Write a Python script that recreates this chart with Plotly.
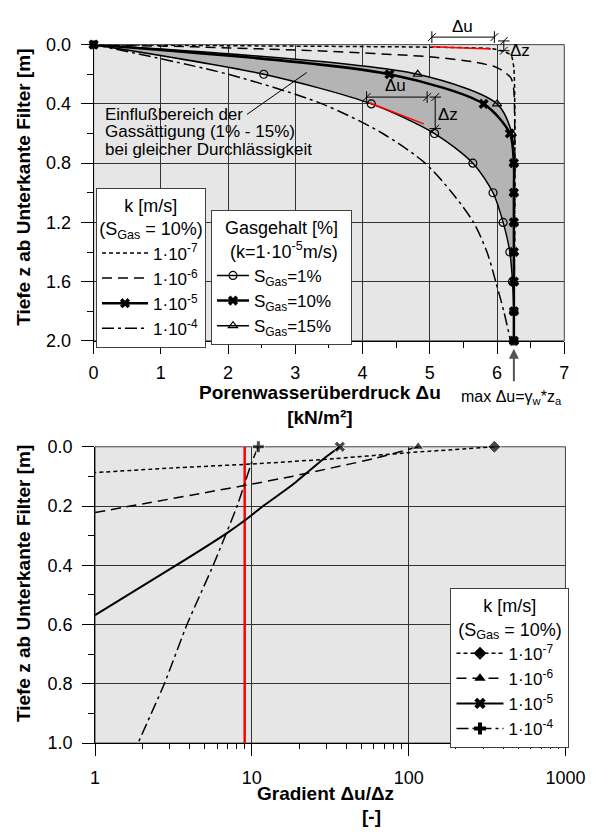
import plotly.graph_objects as go

# ---------------- top chart: pore water overpressure vs depth ----------------
z_marked = [0.0, 0.2, 0.4, 0.6, 0.8, 1.0, 1.2, 1.4, 1.6, 1.8, 2.0]
du_sgas1 = [0.0, 2.53, 4.13, 5.07, 5.64, 5.94, 6.09, 6.19, 6.23, 6.25, 6.25]
du_sgas10 = [0.0, 4.40, 5.80, 6.19, 6.25, 6.25, 6.25, 6.25, 6.25, 6.25, 6.25]
du_sgas15 = [0.0, 4.82, 6.00, 6.22, 6.25, 6.25, 6.25, 6.25, 6.25, 6.25, 6.25]

z_k7 = [0.0, 0.007, 0.017, 0.027, 0.046, 0.073, 0.16, 2.0]
du_k7 = [0.0, 2.0, 5.0, 5.92, 6.10, 6.21, 6.25, 6.25]

z_k6 = [0.0, 0.015, 0.043, 0.082, 0.115, 0.148, 0.181, 0.227, 0.313, 2.0]
du_k6 = [0.0, 1.5, 3.39, 5.0, 5.63, 5.96, 6.10, 6.21, 6.25, 6.25]

z_k4 = [0.0, 0.2, 0.4, 0.6, 0.8, 1.0, 1.2, 1.4, 1.6, 1.8, 2.0]
du_k4 = [0.0, 2.0, 3.4, 4.3, 4.93, 5.33, 5.65, 5.85, 5.98, 6.10, 6.20]

du_max = 6.25

# ---------------- bottom chart: gradient vs depth ----------------
gz_k7 = [0.0, 0.02, 0.042, 0.058, 0.072, 0.087]
grad_k7 = [352, 100, 30, 10, 3, 1]
gz_k6 = [0.0, 0.04, 0.075, 0.10, 0.126, 0.155, 0.193, 0.222]
grad_k6 = [115, 60, 30, 18, 10, 5, 2, 1]
gz_k5 = [0.0, 0.041, 0.13, 0.20, 0.249, 0.292, 0.398, 0.568]
grad_k5 = [36.4, 28.6, 18.0, 11.8, 9.0, 6.9, 3.34, 1.0]
gz_k4 = [0.0, 0.051, 0.196, 0.397, 0.601, 0.799, 1.0]
grad_k4 = [11.0, 10.0, 8.1, 5.7, 3.85, 2.77, 1.88]
grad_crit = 9.0
gz_crit = [0.0, 1.0]

NB = "\u00a0"
k_labels = ["1·10<sup>-7</sup>", "1·10<sup>-6</sup>", "1·10<sup>-5</sup>", "1·10<sup>-4</sup>"]
sgas_labels = ["S<sub>Gas</sub>=1%", "S<sub>Gas</sub>=10%", "S<sub>Gas</sub>=15%" + NB * 3]
k_title = NB * 5 + "k [m/s]<br>(S<sub>Gas</sub> = 10%)"
gas_title = "Gasgehalt [%]<br>" + NB + "(k=1·10<sup>-5</sup>m/s)"

# ---------------- layout helpers ----------------
W, H = 596, 836
FONT = "Liberation Sans, Arial, Helvetica, sans-serif"
def px_x(p): return p / W
def px_y(p): return 1 - p / H
def xd(x): return x / 7.0          # top x-axis domain fraction
def yd(z): return 1 - z / 2.0      # top y-axis domain fraction (reversed)
UX, UZ = 1 / 70.1, 1 / 151.9       # one pixel in top-chart data units

DASH_K7 = "4px,3px"
DASH_K6 = "10px,6px"
DASH_K4 = "12px,4px,3px,4px"
GRID = "#333333"

fig = go.Figure()

# --- top chart traces ---
fig.add_trace(go.Scatter(x=du_sgas1, y=z_marked, mode="lines+markers",
    line=dict(color="black", width=1.5, shape="spline", smoothing=0.8),
    marker=dict(symbol="circle-open", size=8, color="black", line=dict(width=1.2, color="black")),
    showlegend=False, cliponaxis=False))
fig.add_trace(go.Scatter(x=du_sgas15, y=z_marked, mode="lines+markers",
    line=dict(color="black", width=1.5, shape="spline", smoothing=0.8),
    fill="tonextx", fillcolor="#b4b4b4",
    marker=dict(symbol="triangle-up-open", size=8, color="black", line=dict(width=1.2, color="black")),
    showlegend=False, cliponaxis=False))
fig.add_trace(go.Scatter(x=du_k7, y=z_k7, mode="lines+markers",
    line=dict(color="black", width=1.5, dash=DASH_K7, shape="spline", smoothing=0.6),
    marker=dict(symbol="square", size=[9] + [0] * (len(z_k7) - 1), color="black"),
    showlegend=False, cliponaxis=False))
fig.add_trace(go.Scatter(x=du_k6, y=z_k6, mode="lines",
    line=dict(color="black", width=1.5, dash=DASH_K6, shape="spline", smoothing=0.6),
    showlegend=False))
fig.add_trace(go.Scatter(x=du_k4, y=z_k4, mode="lines",
    line=dict(color="black", width=1.5, dash=DASH_K4, shape="spline", smoothing=0.8),
    showlegend=False))
fig.add_trace(go.Scatter(x=du_sgas10, y=z_marked, mode="lines+markers",
    line=dict(color="black", width=2.5, shape="spline", smoothing=0.8),
    marker=dict(symbol="x", size=9, color="black"),
    showlegend=False, cliponaxis=False))

# legend 1 proxies (k, top)
styles_top = [
    dict(line=dict(color="black", width=1.5, dash=DASH_K7), mode="lines"),
    dict(line=dict(color="black", width=1.5, dash=DASH_K6), mode="lines"),
    dict(line=dict(color="black", width=2.5), mode="lines+markers", marker=dict(symbol="x", size=9, color="black")),
    dict(line=dict(color="black", width=1.5, dash=DASH_K4), mode="lines"),
]
for i, (lab, st) in enumerate(zip(k_labels, styles_top)):
    fig.add_trace(go.Scatter(x=[None], y=[None], name=lab, legend="legend",
                             legendgroup="a%d" % i, **st))
# legend 2 proxies (gas content)
styles_gas = [
    dict(line=dict(color="black", width=1.5), marker=dict(symbol="circle-open", size=8, color="black", line=dict(width=1.2))),
    dict(line=dict(color="black", width=2.5), marker=dict(symbol="x", size=9, color="black")),
    dict(line=dict(color="black", width=1.5), marker=dict(symbol="triangle-up-open", size=8, color="black", line=dict(width=1.2))),
]
for i, (lab, st) in enumerate(zip(sgas_labels, styles_gas)):
    fig.add_trace(go.Scatter(x=[None], y=[None], name=lab, legend="legend2",
                             legendgroup="b%d" % i, mode="lines+markers", **st))

# --- bottom chart traces ---
fig.add_trace(go.Scatter(x=[grad_crit, grad_crit], y=gz_crit, xaxis="x2", yaxis="y2", mode="lines",
    line=dict(color="#ff0000", width=2.5), showlegend=False))
bottom_series = [
    (grad_k7, gz_k7, DASH_K7, "diamond", 1.5),
    (grad_k6, gz_k6, DASH_K6, "triangle-up", 1.5),
    (grad_k5, gz_k5, "solid", "x", 2.0),
    (grad_k4, gz_k4, DASH_K4, "cross", 1.5),
]
for gx, gz, dsh, sym, lw in bottom_series:
    fig.add_trace(go.Scatter(x=gx, y=gz, xaxis="x2", yaxis="y2", mode="lines+markers",
        line=dict(color="black", width=lw, dash=dsh, shape="spline", smoothing=0.5),
        marker=dict(symbol=sym, size=[10] + [0] * (len(gx) - 1), color="black"),
        showlegend=False, cliponaxis=False))
k_labels3 = k_labels[:3] + [k_labels[3] + NB * 2]
for i, (lab, (gx, gz, dsh, sym, lw)) in enumerate(zip(k_labels3, bottom_series)):
    fig.add_trace(go.Scatter(x=[None], y=[None], xaxis="x2", yaxis="y2", name=lab,
        legend="legend3", legendgroup="c%d" % i, mode="lines+markers",
        line=dict(color="black", width=lw, dash=dsh),
        marker=dict(symbol=sym, size=10, color="black")))

# ---------------- axes ----------------
tickfont = dict(family=FONT, size=18, color="black")
common = dict(showline=True, linecolor="black", linewidth=1, ticks="outside", ticklen=12,
              tickwidth=1, tickcolor="black", showgrid=True, gridcolor=GRID, gridwidth=1,
              zeroline=False, tickfont=tickfont)

top_dx = [px_x(92.5), px_x(583.8)]
top_dy = [px_y(339), px_y(35.5)]
bot_dx = [px_x(94), px_x(585)]
bot_dy = [px_y(751), px_y(447.5)]

fig.update_layout(
    xaxis=dict(domain=top_dx, anchor="y", range=[0, 7], tick0=0, dtick=1,
               minor=dict(ticks="outside", ticklen=6, dtick=0.5, tickcolor="black", showgrid=False),
               ticklabelstandoff=4, **common),
    yaxis=dict(domain=top_dy, anchor="x", range=[2.0, 0.0], tick0=0, dtick=0.4, tickformat=".1f",
               minor=dict(ticks="outside", ticklen=6, dtick=0.2, tickcolor="black", showgrid=False),
               ticklabelstandoff=6, **common),
    xaxis2=dict(domain=bot_dx, anchor="y2", type="log", range=[0, 3],
                tickvals=[1, 10, 100, 1000], ticktext=["1", "10", "100", "1000"],
                ticklabeloverflow="allow",
                minor=dict(ticks="outside", ticklen=5, tickcolor="black", showgrid=False,
                           tickvals=[m * 10 ** e for e in range(3) for m in range(2, 10)]),
                ticklabelstandoff=6, **common),
    yaxis2=dict(domain=bot_dy, anchor="x2", range=[1.0, 0.0], tick0=0, dtick=0.2, tickformat=".1f",
                minor=dict(ticks="outside", ticklen=6, dtick=0.1, tickcolor="black", showgrid=False),
                ticklabelstandoff=6, **common),
)

title_font = dict(family=FONT, size=18, color="black")
leg_common = dict(xanchor="left", yanchor="top", bgcolor="white", bordercolor="#404040",
                  borderwidth=1, font=dict(family=FONT, size=17, color="black"),
                  traceorder="grouped", tracegroupgap=0)
fig.update_layout(
    legend=dict(x=px_x(95), y=px_y(182), itemwidth=46,
                title=dict(text=k_title, side="top center", font=title_font), **leg_common),
    legend2=dict(x=px_x(215), y=px_y(205), itemwidth=32,
                 title=dict(text=gas_title, side="top center", font=title_font), **leg_common),
    legend3=dict(x=px_x(465), y=px_y(592), itemwidth=47,
                 title=dict(text=k_title, side="top center", font=title_font), **leg_common),
)

# ---------------- shapes (frames, dimension annotations) ----------------
shapes = []
for xr, yr in (("x domain", "y domain"), ("x2 domain", "y2 domain")):
    shapes.append(dict(type="rect", xref=xr, yref=yr, x0=0, x1=1, y0=0, y1=1,
                       line=dict(color="#404040", width=1), layer="below"))

def seg(x0, z0, x1, z1, color="black", width=1):
    shapes.append(dict(type="line", xref="x domain", yref="y domain",
                       x0=xd(x0), y0=yd(z0), x1=xd(x1), y1=yd(z1),
                       line=dict(color=color, width=width)))

def hdim(xa, xb, z):
    seg(xa, z, xb, z)
    for x in (xa, xb):
        seg(x, z - 6 * UZ, x, z + 6 * UZ)
        seg(x - 4 * UX, z + 4 * UZ, x + 4 * UX, z - 4 * UZ)

def vdim(x, za, zb):
    seg(x, za, x, zb)
    for z in (za, zb):
        seg(x - 6 * UX, z, x + 6 * UX, z)
        seg(x - 4 * UX, z + 4 * UZ, x + 4 * UX, z - 4 * UZ)

# upper construction (k = 1e-7 curve)
hdim(5.03, 5.96, -0.051)
vdim(6.10, -0.025, 0.041)
seg(5.03, 0.015, 5.91, 0.030, color="#ff0000", width=1.5)
# lower construction (S_Gas = 1% curve)
hdim(4.06, 4.96, 0.354)
vdim(5.08, 0.354, 0.567)
seg(4.10, 0.392, 4.91, 0.535, color="#ff0000", width=1.5)
# leader line
seg(2.28, 0.471, 3.17, 0.188)
fig.update_layout(shapes=shapes)

# ---------------- annotations ----------------
ann = []
def note(text, x, y, xref="paper", yref="paper", size=17, xanchor="center", yanchor="middle", angle=0):
    ann.append(dict(text=text, x=x, y=y, xref=xref, yref=yref, showarrow=False,
                    xanchor=xanchor, yanchor=yanchor, textangle=angle,
                    font=dict(family=FONT, size=size, color="black")))

note("Δu", xd(5.48), yd(-0.124), "x domain", "y domain")
note("Δz", xd(6.34), yd(0.041), "x domain", "y domain")
note("Δu", xd(4.49), yd(0.275), "x domain", "y domain")
note("Δz", xd(5.27), yd(0.473), "x domain", "y domain")
note("Einflußbereich der", xd(0.146), yd(0.469), "x domain", "y domain", xanchor="left")
note("Gassättigung (1% - 15%)", xd(0.146), yd(0.589), "x domain", "y domain", xanchor="left")
note("bei gleicher Durchlässigkeit", xd(0.146), yd(0.710), "x domain", "y domain", xanchor="left")
note("max Δu=γ<sub>w</sub>*z<sub>a</sub>", px_x(529), px_y(397), size=16)

note("<b>Tiefe z ab Unterkante Filter [m]</b>", px_x(19), px_y(182), size=19, angle=-90)
note("<b>Tiefe z ab Unterkante Filter [m]</b>", px_x(20), px_y(588), size=19, angle=-90)
note("<b>Porenwasserüberdruck Δu</b><br><b>[kN/m²]</b>", px_x(329), px_y(405), size=19)
note("<b>Gradient Δu/Δz</b>", px_x(335), px_y(803), size=19)
note("<b>[-]</b>", px_x(382.5), px_y(826), size=19)

ann.append(dict(text="", x=du_max, xref="x", y=px_y(347), yref="paper", showarrow=True,
                ax=0, ay=34, arrowhead=2, arrowsize=1, arrowwidth=2, arrowcolor="#555555"))
fig.update_layout(annotations=ann)

fig.update_layout(width=W, height=H, margin=dict(l=0, r=0, t=0, b=0), autosize=False,
                  paper_bgcolor="white", plot_bgcolor="#e6e6e6",
                  font=dict(family=FONT, color="black"))

fig.write_html("out.html",
               post_script="document.body.style.margin='0';"
                           "document.documentElement.style.overflow='hidden';"
                           "document.body.style.overflow='hidden';")
